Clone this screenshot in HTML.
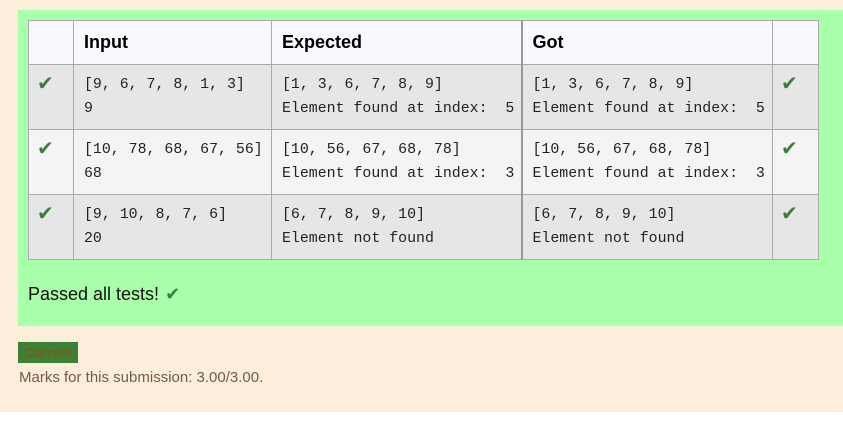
<!DOCTYPE html>
<html><head><style>
body{margin:0;width:843px;height:423px;background:#fff;position:relative;overflow:hidden;font-family:"Liberation Sans",sans-serif}
.bg{position:absolute;left:0;top:0;width:843px;height:412px;background:#fbeedb}
.green{position:absolute;left:18px;top:10px;width:825px;height:316px;background:#aaffaa}
table{position:absolute;left:28px;top:20px;border-collapse:collapse;width:790px;table-layout:fixed}
td,th{border:1px solid #aaa;vertical-align:top;padding:0 0 0 10px;text-align:left}
th{background:#f8f9ff;height:44px;font-size:18px;font-weight:bold;vertical-align:middle;padding-top:0;box-sizing:border-box}
tr.a td{background:#e6e6e6}
tr.b td{background:#f4f4f4}
td{height:65px;font-family:"Liberation Mono",monospace;font-size:14.9px;color:#222;line-height:24px;padding-top:8px;box-sizing:border-box;white-space:pre}
.ck{color:#3c7f3c;font-family:"DejaVu Sans",sans-serif;font-size:20px;padding-left:8px;padding-top:6px;font-weight:bold}
.pass{position:absolute;left:28px;top:284px;font-size:18px;color:#111}
.pass span{color:#3c7f3c;font-family:"DejaVu Sans",sans-serif;margin-left:6px;font-weight:bold}
.corr{position:absolute;left:18px;top:342px;width:60px;height:21px;background:#3e8036;color:#7a5a20;font-size:13px;font-weight:bold;line-height:21px;text-align:center}
.marks{position:absolute;left:19px;top:369px;font-size:15px;color:#7a5a3a}
</style></head><body>
<div class="bg"></div>
<div class="green"></div>
<table>
<colgroup><col style="width:45px"><col style="width:198px"><col style="width:250px"><col style="width:251px"><col style="width:46px"></colgroup>
<tr><th></th><th>Input</th><th>Expected</th><th style="border-left:2px solid #999">Got</th><th></th></tr>
<tr class="a"><td class="ck">✔</td><td>[9, 6, 7, 8, 1, 3]
9</td><td>[1, 3, 6, 7, 8, 9]
Element found at index:  5</td><td style="border-left:2px solid #999">[1, 3, 6, 7, 8, 9]
Element found at index:  5</td><td class="ck">✔</td></tr>
<tr class="b"><td class="ck">✔</td><td>[10, 78, 68, 67, 56]
68</td><td>[10, 56, 67, 68, 78]
Element found at index:  3</td><td style="border-left:2px solid #999">[10, 56, 67, 68, 78]
Element found at index:  3</td><td class="ck">✔</td></tr>
<tr class="a"><td class="ck">✔</td><td>[9, 10, 8, 7, 6]
20</td><td>[6, 7, 8, 9, 10]
Element not found</td><td style="border-left:2px solid #999">[6, 7, 8, 9, 10]
Element not found</td><td class="ck">✔</td></tr>
</table>
<div class="pass">Passed all tests!<span>✔</span></div>
<div class="corr">Correct</div>
<div class="marks">Marks for this submission: 3.00/3.00.</div>
</body></html>
